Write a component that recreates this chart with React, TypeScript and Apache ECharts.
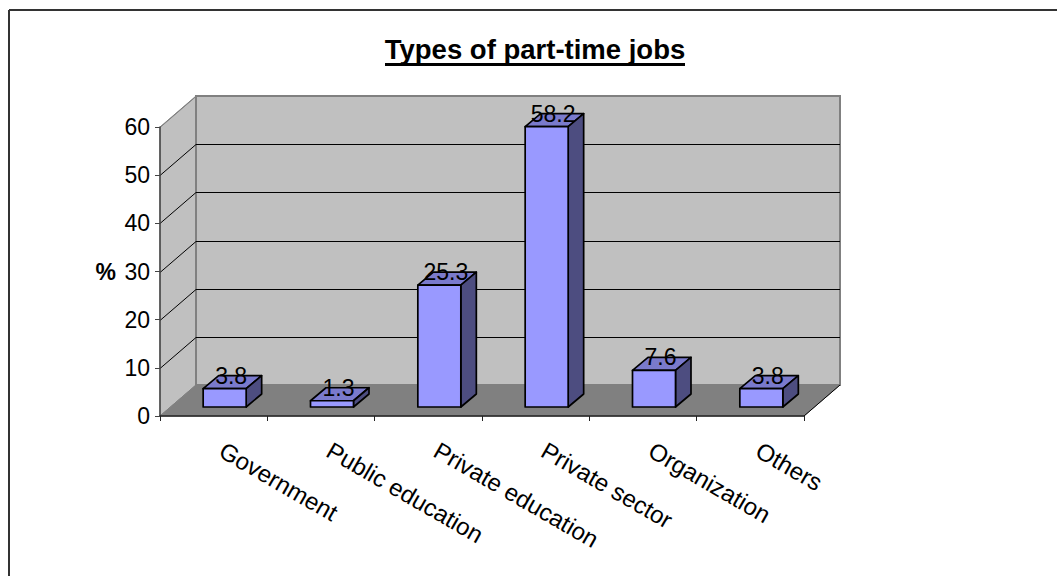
import React, { useEffect, useRef } from "react";
import * as echarts from "echarts";

const categories = ["Government", "Public education", "Private education", "Private sector", "Organization", "Others"];
const values = [3.8, 1.3, 25.3, 58.2, 7.6, 3.8];
const yTicks = [0, 10, 20, 30, 40, 50, 60];

const DX = 36, DY = 31, BAR_W = 43, BDX = 15.5, BDY = 13, LIFT = 9;
const WALL = "#c0c0c0", FLOOR = "#808080", EDGE = "#808080";

function renderWalls(_p: any, api: any) {
  const band = api.size([1, 0])[0];
  const [cx, y0] = api.coord([0, 0]);
  const [, yTop] = api.coord([0, 60]);
  const x0 = cx - band / 2;
  const x1 = x0 + band * categories.length;
  const pts = (a: number[][]) => ({ points: a });
  const children: any[] = [
    { type: "polygon", shape: pts([[x0, y0], [x0 + DX, y0 - DY], [x0 + DX, yTop - DY], [x0, yTop]]), style: { fill: WALL, stroke: EDGE, lineWidth: 1 } },
    { type: "polygon", shape: pts([[x0 + DX, yTop - DY], [x1 + DX, yTop - DY], [x1 + DX, y0 - DY], [x0 + DX, y0 - DY]]), style: { fill: WALL, stroke: EDGE, lineWidth: 2 } },
    { type: "polygon", shape: pts([[x0, y0], [x0 + DX, y0 - DY], [x1 + DX, y0 - DY], [x1, y0]]), style: { fill: FLOOR, stroke: FLOOR, lineWidth: 1 } },
    { type: "line", shape: { x1: x1, y1: y0, x2: x1 + DX, y2: y0 - DY }, style: { stroke: "#000", lineWidth: 1 } },
  ];
  yTicks.slice(1).forEach((t) => {
    const y = Math.round(api.coord([0, t])[1]) + 0.5;
    const pl = t === 60
      ? [[x0, y], [x0 + DX, y - DY]]
      : [[x0, y], [x0 + DX, y - DY], [x1 + DX, y - DY]];
    children.push({ type: "polyline", shape: pts(pl), style: { fill: "none", stroke: t === 60 ? EDGE : "#000", lineWidth: 1 } });
  });
  return { type: "group", children };
}

function renderBar(_p: any, api: any) {
  const [cx, yVal] = api.coord([api.value(0), api.value(1)]);
  const left = cx + 11 - BAR_W / 2;
  const right = left + BAR_W;
  const top = yVal - LIFT;
  const bottom = api.coord([api.value(0), 0])[1] - LIFT;
  const st = { stroke: "#000", lineWidth: 1.7, lineJoin: "round" };
  return {
    type: "group",
    children: [
      { type: "polygon", shape: { points: [[left, top], [left + BDX, top - BDY], [right + BDX, top - BDY], [right, top]] }, style: { ...st, fill: "#7a7acc" } },
      { type: "polygon", shape: { points: [[right, top], [right + BDX, top - BDY], [right + BDX, bottom - BDY], [right, bottom]] }, style: { ...st, fill: "#4d4d80" } },
      { type: "rect", shape: { x: left, y: top, width: BAR_W, height: bottom - top }, style: { ...st, fill: "#9999ff" } },
      { type: "text", style: { text: String(api.value(1)), x: left + BAR_W / 2 + 6.5, y: top - 13, align: "center", verticalAlign: "middle", font: "23px 'Liberation Sans'", fill: "#000" } },
    ],
  };
}

export default function App() {
  const ref = useRef<HTMLDivElement>(null);
  useEffect(() => {
    const chart = echarts.init(ref.current!, null, { renderer: "svg" });
    chart.setOption({
      animation: false,
      backgroundColor: "#fff",
      textStyle: { fontFamily: "'Liberation Sans'" },
      grid: { left: 160, top: 127, width: 644, height: 289 },
      xAxis: {
        type: "category",
        data: categories,
        boundaryGap: true,
        z: 5,
        axisLine: { show: true, lineStyle: { color: "#222", width: 1.5 } },
        axisTick: { show: true, alignWithLabel: false, length: 5, lineStyle: { color: "#222", width: 1 } },
        axisLabel: { rotate: -30, fontSize: 24, color: "#000", interval: 0, margin: 28, padding: [0, 0, 0, 9] },
      },
      yAxis: {
        type: "value",
        min: 0,
        max: 60,
        interval: 10,
        z: 5,
        axisLine: { show: true, lineStyle: { color: "#444", width: 1.5 } },
        axisTick: { show: true, length: 5, lineStyle: { color: "#444", width: 1 } },
        axisLabel: { fontSize: 23, color: "#000", margin: 10 },
        splitLine: { show: false },
        name: "%",
        nameLocation: "middle",
        nameRotate: 0,
        nameGap: 44,
        nameTextStyle: { fontSize: 23, fontWeight: "bold", color: "#000" },
      },
      graphic: [
        { type: "line", shape: { x1: 9, y1: 10, x2: 1057, y2: 10 }, style: { stroke: "#333", lineWidth: 2 } },
        { type: "line", shape: { x1: 9, y1: 10, x2: 9, y2: 576 }, style: { stroke: "#333", lineWidth: 2 } },
        { type: "text", x: 535, y: 49, style: { text: "Types of part-time jobs", align: "center", verticalAlign: "middle", font: "bold 27.5px 'Liberation Sans'", fill: "#000" } },
        { type: "rect", shape: { x: 385, y: 63, width: 300, height: 3 }, style: { fill: "#000" } },
      ],
      series: [
        { type: "custom", coordinateSystem: "cartesian2d", data: [[0, 0]], renderItem: renderWalls, silent: true, z: 1 },
        { type: "custom", coordinateSystem: "cartesian2d", data: values.map((v, i) => [i, v]), renderItem: renderBar, z: 3 },
      ],
    });
    return () => chart.dispose();
  }, []);
  return <div ref={ref} style={{ position: "absolute", left: 0, top: 0, width: 1057, height: 576 }} />;
}
